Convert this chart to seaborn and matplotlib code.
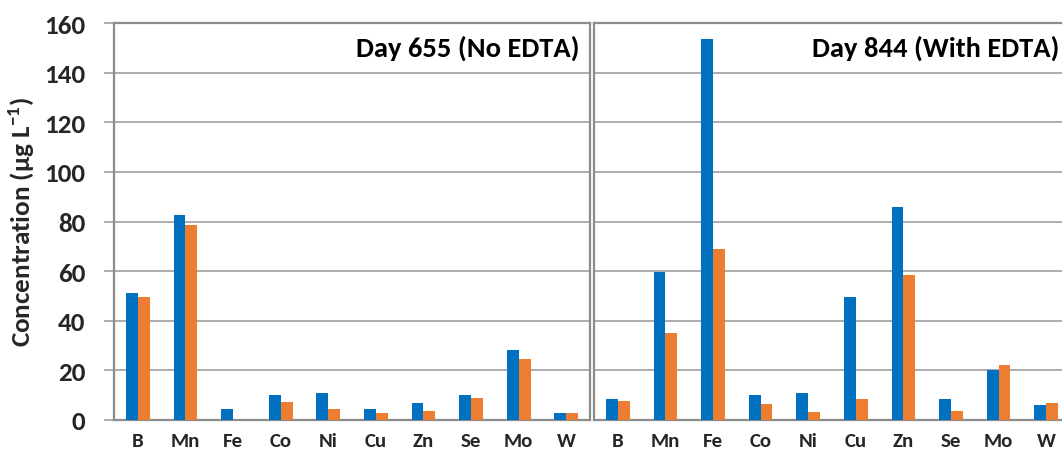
import matplotlib
matplotlib.use("Agg")
import matplotlib.pyplot as plt
import seaborn as sns
import pandas as pd

elements = ["B", "Mn", "Fe", "Co", "Ni", "Cu", "Zn", "Se", "Mo", "W"]
series_names = ["Series 1", "Series 2"]

day655_s1 = [51.2, 82.5, 4.3, 10.2, 11.0, 4.6, 6.9, 10.1, 28.1, 2.7]
day655_s2 = [49.4, 78.7, 0.0, 7.4, 4.3, 2.8, 3.5, 9.0, 24.7, 2.7]
day844_s1 = [8.3, 59.5, 153.4, 9.9, 10.7, 49.7, 85.7, 8.3, 20.3, 5.9]
day844_s2 = [7.5, 34.9, 68.8, 6.4, 3.1, 8.3, 58.6, 3.5, 22.3, 6.9]

panel_titles = ["Day 655 (No EDTA)", "Day 844 (With EDTA)"]
y_ticks = [0, 20, 40, 60, 80, 100, 120, 140, 160]

sns.set_theme(style="white")
plt.rcParams["font.family"] = ["Carlito", "DejaVu Sans"]
plt.rcParams["font.weight"] = "bold"
plt.rcParams["mathtext.fontset"] = "custom"
plt.rcParams["mathtext.rm"] = "Carlito:bold"
plt.rcParams["mathtext.bf"] = "Carlito:bold"

colors = ["#0070C0", "#ED7D31"]
grid_c = "#A6A6A6"
frame_c = "#8C8C8C"


def long_frame(s1, s2):
    return pd.DataFrame({
        "element": elements * 2,
        "value": s1 + s2,
        "series": [series_names[0]] * len(elements) + [series_names[1]] * len(elements),
    })


W, H = 1062, 452
fig = plt.figure(figsize=(W / 100, H / 100), dpi=100)
bottom, top = 421, 24
panel_w = 476
axes = [
    fig.add_axes([114 / W, (H - bottom) / H, panel_w / W, (bottom - top) / H]),
    fig.add_axes([594 / W, (H - bottom) / H, panel_w / W, (bottom - top) / H]),
]
data = [long_frame(day655_s1, day655_s2), long_frame(day844_s1, day844_s2)]

for i, (ax, df) in enumerate(zip(axes, data)):
    sns.barplot(data=df, x="element", y="value", hue="series", palette=colors,
                width=0.5, gap=0, legend=False, ax=ax, errorbar=None,
                saturation=1, edgecolor="none", zorder=3)
    ax.set_ylim(0, 160)
    ax.set_xlim(-0.5, len(elements) - 0.5)
    ax.set_yticks(y_ticks)
    ax.grid(axis="y", color=grid_c, linewidth=1.3, zorder=0)
    ax.set_axisbelow(True)
    for sp in ax.spines.values():
        sp.set_visible(True)
        sp.set_color(frame_c)
        sp.set_linewidth(1.6)
    ax.tick_params(axis="x", bottom=False, labelsize=15, pad=2.5)
    if i == 0:
        ax.tick_params(axis="y", left=True, length=7.2, width=1.3,
                       color=grid_c, direction="out", labelsize=19.5, pad=13.5)
        ax.set_ylabel(r"Concentration (µg L$^{-1}$)", fontsize=19.5,
                      fontweight="bold")
        ax.yaxis.set_label_coords(-0.162, 0.5)
    else:
        ax.tick_params(axis="y", left=False, labelleft=False)
        ax.set_ylabel("")
    for lab in ax.get_xticklabels() + ax.get_yticklabels():
        lab.set_fontweight("bold")
    ax.set_xlabel("")
    ax.text(1 - 11 / panel_w, 0.938, panel_titles[i], transform=ax.transAxes,
            ha="right", va="center", fontsize=20.5, fontweight="bold",
            color="black")

fig.savefig("out.png", dpi=100)
